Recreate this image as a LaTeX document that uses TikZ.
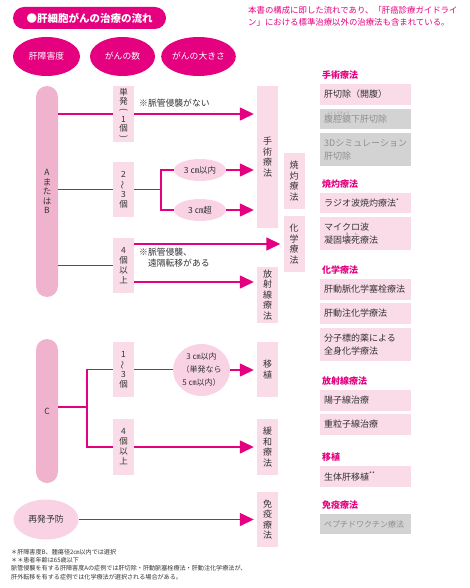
\documentclass[tikz,border=0pt]{standalone}
\usepackage{fontspec}
\setmainfont{Noto Sans CJK JP}
\usetikzlibrary{arrows.meta,shapes.geometric}
\definecolor{mg}{HTML}{E4007F}
\definecolor{lp}{HTML}{FADCE8}
\definecolor{bp}{HTML}{F0B3CE}
\definecolor{ep}{HTML}{F9D3E4}
\definecolor{gb}{HTML}{D3D3D3}
\definecolor{gt}{HTML}{8E8E8E}
\definecolor{tx}{HTML}{333333}
\tikzset{
 vbox/.style={fill=lp, minimum width=21pt, inner sep=0pt, align=center, text=tx, font=\fontsize{8.5}{10}\selectfont},
 barbox/.style={fill=bp, minimum width=22pt, rounded corners=11pt, inner sep=0pt, align=center, text=tx, font=\fontsize{8.5}{9.5}\selectfont},
 topell/.style={ellipse, fill=mg, text=white, inner sep=0pt, font=\fontsize{8.8}{10}\selectfont},
 pell/.style={ellipse, fill=ep, text=tx, inner sep=0pt, align=center, font=\fontsize{8}{10}\selectfont},
 ln/.style={draw=mg, line width=1.4pt},
 arr/.style={ln, -{Triangle[length=14pt,width=13pt]}, shorten >=3pt},
 rbox/.style={fill=lp, anchor=west, text width=83pt, inner xsep=4pt, inner ysep=0pt, align=left, text=tx, font=\fontsize{9}{13}\selectfont},
 gbox/.style={rbox, fill=gb, text=gt},
 head/.style={anchor=west, text=mg, inner sep=0pt, font=\fontsize{9}{10}\selectfont\bfseries},
 lbl/.style={inner sep=0pt, text=tx, font=\fontsize{8.8}{11}\selectfont}
}
\newcommand{\rubyt}[1]{\smash{\raisebox{8.3pt}{\fontsize{3.2}{3.2}\selectfont #1}}}
\newcommand{\vop}{\rotatebox[origin=c]{-90}{(}}
\newcommand{\vcl}{\rotatebox[origin=c]{-90}{)}}
\newcommand{\vwave}{\rotatebox[origin=c]{90}{～}}
\begin{document}
\begin{tikzpicture}[x=1pt,y=-1pt]
\useasboundingbox (0,0) rectangle (470,588);
% title
\node[fill=mg, rounded corners=11pt, minimum width=153pt, minimum height=22pt, text=white, inner sep=0pt, font=\fontsize{10.5}{12}\selectfont\bfseries] (title) at (89.5,18) {●肝細胞がんの治療の流れ};
\node[topell, minimum width=67pt, minimum height=39pt] (t1) at (46.5,56.5) {肝障害度};
\node[topell, minimum width=65pt, minimum height=39pt] (t2) at (122.5,56.5) {がんの数};
\node[topell, minimum width=63pt, minimum height=39pt] (t3) at (198.5,56.5) {がんの大きさ};
\node[anchor=north west, inner sep=0pt, text=mg, align=left, font=\fontsize{8.4}{12}\selectfont] (note) at (248,6) {本書の構成に即した流れであり、「肝癌診療ガイドライ\\ン」における標準治療以外の治療法も含まれている。};
% bars
\node[barbox, minimum height=211pt] (ab) at (47,191.5) {A\\ま\\た\\は\\B};
\node[barbox, minimum height=144pt] (cb) at (47,411) {C};
% number boxes
\node[vbox, minimum height=56pt, font=\fontsize{8.5}{9}\selectfont] (s1) at (123.5,114) {単\\発\\\vop\\1\\個\\\vcl};
\node[vbox, minimum height=55pt] (s2) at (123.5,189.5) {2\\\vwave\\3\\個};
\node[vbox, minimum height=55pt] (s3) at (123.5,265.5) {4\\個\\以\\上};
\node[vbox, minimum height=55pt] (c1) at (123.5,369.5) {1\\\vwave\\3\\個};
\node[vbox, minimum height=56pt] (c2) at (123.5,447) {4\\個\\以\\上};
% treatments
\node[vbox, minimum height=142pt, font=\fontsize{9}{10.5}\selectfont] (shu) at (267.5,157) {手\\術\\療\\法};
\node[vbox, minimum height=56pt, font=\fontsize{9}{10.5}\selectfont] (sho) at (294,181) {焼\\灼\\療\\法};
\node[vbox, minimum height=56pt, font=\fontsize{9}{10.5}\selectfont] (kag) at (294,244) {化\\学\\療\\法};
\node[vbox, minimum height=56pt, font=\fontsize{9}{10.5}\selectfont] (hoj) at (267.5,295) {放\\射\\線\\療\\法};
\node[vbox, minimum height=55pt, font=\fontsize{9}{10.5}\selectfont] (isy) at (267.5,369.5) {移\\植};
\node[vbox, minimum height=56pt, font=\fontsize{9}{10.5}\selectfont] (kan) at (267.5,447) {緩\\和\\療\\法};
\node[vbox, minimum height=55pt, font=\fontsize{9}{10.5}\selectfont] (men) at (267.5,519.5) {免\\疫\\療\\法};
% size ellipses
\node[pell, minimum width=52pt, minimum height=22pt, font=\fontsize{8.5}{10}\selectfont] (e1) at (200,170) {3 ㎝以内};
\node[pell, minimum width=52pt, minimum height=22pt, font=\fontsize{8.5}{10}\selectfont] (e2) at (200,210) {3 ㎝超};
\node[pell, minimum width=57pt, minimum height=52pt, font=\fontsize{8}{13}\selectfont] (ci) at (201.5,370) {3 ㎝以内\\（単発なら\\5 ㎝以内）};
\node[pell, minimum width=65pt, minimum height=40pt, font=\fontsize{8.8}{10}\selectfont] (rp) at (46,519.5) {再発予防};
% labels
\node[lbl, anchor=west] (n1) at (139,103) {※脈管侵襲がない};
\node[lbl, anchor=north west, align=left] (n2) at (139,247.5) {※脈管侵襲、\\\hspace*{8.8pt}遠隔転移がある};
% connectors
\draw[ln] (ab.east |- s1.west) -- (s1.west);
\draw[ln] (ab.east |- s2.west) -- (s2.west);
\draw[ln] (ab.east |- s3.west) -- (s3.west);
\draw[arr] (s1.east) -- (s1.east -| shu.west);
\coordinate (j1) at (161,189.5);
\draw[ln] (s2.east) -- (j1);
\draw[ln] (e1.west) -| (j1) |- (e2.west);
\draw[arr] (e1.east) -- (e1.east -| shu.west);
\draw[arr] (e2.east) -- (e2.east -| shu.west);
\draw[arr] (s3.east |- kag.west) -- (kag.west);
\coordinate (h1) at (134,282);
\draw[arr] (h1) -- (h1 -| hoj.west);
\coordinate (cj) at (87,407);
\draw[ln] (cb.east |- cj) -- (cj);
\draw[ln] (c1.west) -| (cj) |- (c2.west);
\draw[ln] (c1.east) -- (c1.east -| ci.west);
\draw[arr] (ci.east) -- (ci.east -| isy.west);
\draw[arr] (c2.east) -- (kan.west);
\draw[arr] (rp.east) -- (men.west);
% right column
\node[head] (hd1) at (322,75) {手術療法};
\node[rbox, minimum height=21pt] (r1) at (320,94.5) {肝切除（開腹）};
\node[gbox, minimum height=20pt] (r2) at (320,119) {\leavevmode\rlap{\hspace*{3pt}\rubyt{ふくくうきょう}}腹腔鏡下肝切除};
\node[gbox, minimum height=33pt] (r3) at (320,149.5) {3Dシミュレーション\\肝切除};
\node[head] (hd2) at (322,184) {焼灼療法};
\node[rbox, minimum height=20pt] (r4) at (320,203) {ラジオ波焼灼療法\textsuperscript{*}};
\node[rbox, minimum height=33pt] (r5) at (320,233.5) {マイクロ波\\\leavevmode\rlap{\hspace*{21.5pt}\rubyt{え}\hspace*{6pt}\rubyt{し}}凝固壊死療法};
\node[head] (hd3) at (322,270) {化学療法};
\node[rbox, minimum height=21pt] (r6) at (320,289.5) {肝動脈化学塞栓療法};
\node[rbox, minimum height=21pt] (r7) at (320,313.5) {肝動注化学療法};
\node[rbox, minimum height=33pt] (r8) at (320,344.5) {分子標的薬による\\全身化学療法};
\node[head] (hd4) at (322,381) {放射線療法};
\node[rbox, minimum height=21pt] (r9) at (320,400.5) {陽子線治療};
\node[rbox, minimum height=21pt] (r10) at (320,424.5) {重粒子線治療};
\node[head] (hd5) at (322,457) {移植};
\node[rbox, minimum height=21pt] (r11) at (320,476.5) {生体肝移植\textsuperscript{**}};
\node[head] (hd6) at (322,505) {免疫療法};
\node[gbox, minimum height=20pt, font=\fontsize{8}{13}\selectfont] (r12) at (320,524) {ペプチドワクチン療法};
% footnotes
\node[anchor=north west, inner sep=0pt, align=left, text=tx, font=\fontsize{6.1}{8.3}\selectfont] (fn) at (11,549) {＊肝障害度B、腫瘍径2㎝以内では選択\\＊＊患者年齢は65歳以下\\脈管侵襲を有する肝障害度Aの症例では肝切除・肝動脈塞栓療法・肝動注化学療法が、\\肝外転移を有する症例では化学療法が選択される場合がある。};
\end{tikzpicture}
\end{document}
